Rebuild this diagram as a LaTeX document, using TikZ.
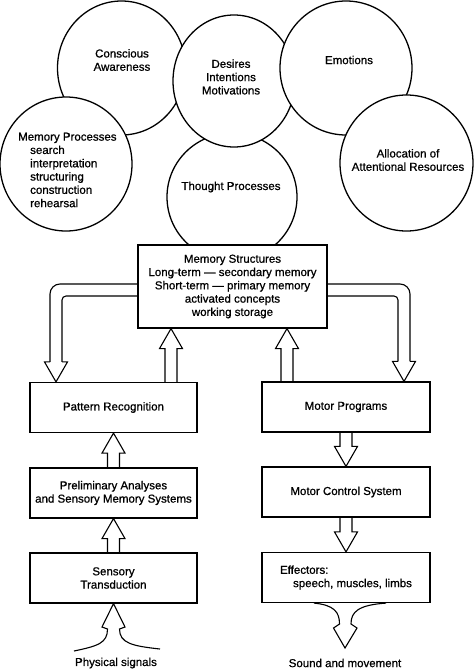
\documentclass[tikz,border=0pt]{standalone}
\usepackage{fontspec}
\setmainfont{Liberation Sans}[FakeBold=0.8]
\usetikzlibrary{calc}

% hollow block arrow from a tail point to a tip point straight above or below it
\newcommand{\hollowarrow}[2]{%
	\draw[hollow] let \p1=(#1), \p2=(#2), \n1={sign(\y2-\y1)*20} in
		({\x1-6pt},\y1) -- ({\x1-6pt},{\y2-\n1*1pt}) -- ({\x1-11.5pt},{\y2-\n1*1pt}) -- (\x1,\y2)
		-- ({\x1+11.5pt},{\y2-\n1*1pt}) -- ({\x1+6pt},{\y2-\n1*1pt}) -- ({\x1+6pt},\y1);}

\tikzset{
	box/.style={draw, line width=1.2pt, fill=white, minimum width=167pt, minimum height=50pt, align=center, inner sep=2pt},
	lbl/.style={inner sep=0pt, align=center},
	hollow/.style={line width=1.1pt, line join=miter},
	bubble/.style={line width=1.3pt, fill=white},
}

\begin{document}
\begin{tikzpicture}[x=1pt, y=-1pt, font=\fontsize{11.5}{13.3}\selectfont]
		\useasboundingbox (0,0) rectangle (474,669);
		
		% the bubbles, back to front
		\draw[bubble] (121.5,68) ellipse (64 and 67);
		\draw[bubble] (232,197) ellipse (65 and 64);
		\draw[bubble] (234,81) ellipse (61 and 66);
		\draw[bubble] (346,68) ellipse (66 and 67);
		\draw[bubble] (66,164) ellipse (66 and 67);
		\draw[bubble] (406.5,163) ellipse (66.5 and 68);
		
		% bubble texts
		\node[lbl] (consc) at (122,60) {Conscious\\Awareness};
		\node[lbl] (desire) at (231,77) {Desires\\Intentions\\Motivations};
		\node[lbl] (emot) at (349,60) {Emotions};
		\node[lbl, anchor=west, align=left] (mproc) at (18,170) {Memory Processes\\
			\hspace*{12pt}search\\
			\hspace*{12pt}interpretation\\
			\hspace*{12pt}structuring\\
			\hspace*{12pt}construction\\
			\hspace*{12pt}rehearsal};
		\node[lbl] (thought) at (231,187) {Thought Processes};
		\node[lbl] (alloc) at (408,160) {Allocation of\\Attentional Resources};
		
		% memory structures
		\node[box, minimum width=189pt, minimum height=83pt] (mem) at (232.5,286.5) {Memory Structures\\Long-term --- secondary memory\\Short-term --- primary memory\\activated concepts\\working storage};
		
		% left column
		\node[box] (pat) at (113.5,407.5) {Pattern Recognition};
		\node[box] (pre) at (113.5,493) {Preliminary Analyses\\and Sensory Memory Systems};
		\node[box] (sen) at (113.5,578) {Sensory\\Transduction};
		
		% right column
		\node[box, minimum width=168pt] (mot) at (346,407) {Motor Programs};
		\node[box, minimum width=168pt] (mcs) at (346,492) {Motor Control System};
		\node[box, minimum width=168pt, align=left] (eff) at (346,577.5) {Effectors:\\\hspace*{13pt}speech, muscles, limbs};
		
		% bottom labels
		\node[lbl] (phys) at (116,663) {Physical signals};
		\node[lbl] (sound) at (345,663) {Sound and movement};
		
		% arrows up into memory structures
		\coordinate (upl) at ($(pat.north)+(57.5,0)$);
		\coordinate (upr) at ($(mot.north)+(-59,0)$);
		\hollowarrow{upl}{upl |- mem.south}
		\hollowarrow{upr}{upr |- mem.south}
		
		% arrows inside the columns
		\hollowarrow{pre.north}{pat.south}
		\hollowarrow{sen.north}{pre.south}
		\hollowarrow{mot.south}{mcs.north}
		\hollowarrow{mcs.south}{eff.north}
		
		% bent arrow down to pattern recognition
		\coordinate (dnl) at ($(pat.north)+(-57.5,0)$);
		\draw[hollow, rounded corners=10pt] ($(mem.west)+(0,-2.5)$) -- ($(dnl |- mem.west)+(-6,-2.5)$) -- ($(dnl |- pat.north)+(-6,-20)$);
		\draw[hollow, rounded corners=4pt] ($(mem.west)+(0,9.5)$) -- ($(dnl |- mem.west)+(6,9.5)$) -- ($(dnl |- pat.north)+(6,-20)$);
		\draw[hollow] ($(dnl |- pat.north)+(-6,-20)$) -- ++(-5.5,0) -- (dnl |- pat.north) -- ($(dnl |- pat.north)+(11.5,-20)$) -- ++(-5.5,0);
		
		% bent arrow down to motor programs
		\coordinate (dnr) at ($(mot.north)+(58,0)$);
		\draw[hollow, rounded corners=10pt] ($(mem.east)+(0,-2.5)$) -- ($(dnr |- mem.east)+(6,-2.5)$) -- ($(dnr |- mot.north)+(6,-20)$);
		\draw[hollow, rounded corners=4pt] ($(mem.east)+(0,9.5)$) -- ($(dnr |- mem.east)+(-6,9.5)$) -- ($(dnr |- mot.north)+(-6,-20)$);
		\draw[hollow] ($(dnr |- mot.north)+(-6,-20)$) -- ++(-5.5,0) -- (dnr |- mot.north) -- ($(dnr |- mot.north)+(11.5,-20)$) -- ++(-5.5,0);
		
		% physical signals
		\coordinate (phyl) at (74,651);
		\coordinate (phyr) at (160,649);
		\draw[hollow] (phyl) .. controls (98,646) and (107.5,643) .. (107.5,629) -- (102,627) -- (sen.south)
			-- (125,627) -- (119.5,629) .. controls (119.5,643) and (132,646) .. (phyr);
		
		% sound and movement
		\coordinate (sndtip) at (345,648);
		\draw[hollow] ($(eff.south)+(-32,0)$) .. controls (334,605) and (339.5,612) .. (339.5,624) -- (333.5,628) -- (sndtip)
			-- (357,628) -- (351,624) .. controls (351,612) and (358,605) .. ($(eff.south)+(40,0)$);
		
	\end{tikzpicture}
\end{document}
